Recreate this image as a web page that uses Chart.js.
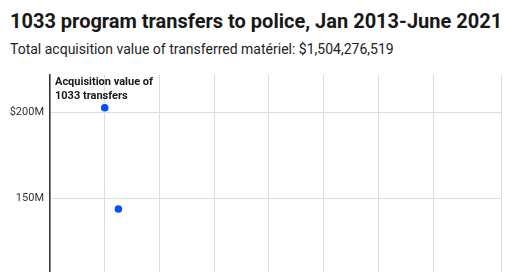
<!DOCTYPE html>
<html>
<head>
<meta charset="utf-8">
<script src="https://cdn.jsdelivr.net/npm/chart.js@4"></script>
<style>
  html, body { margin: 0; padding: 0; background: #fff; overflow: hidden; }
  #wrap { position: relative; width: 520px; height: 272px; overflow: hidden; }
  #title { position: absolute; left: 10px; top: 9px; font: bold 20px Roboto, sans-serif; color: #181818; white-space: nowrap; }
  #subtitle { position: absolute; left: 10px; top: 41px; font: 14px Roboto, sans-serif; color: #222; white-space: nowrap; }
  canvas { position: absolute; left: 0; top: 0; }
</style>
</head>
<body>
<div id="wrap">
  <div id="title">1033 program transfers to police, Jan 2013-June 2021</div>
  <div id="subtitle">Total acquisition value of transferred matériel: $1,504,276,519</div>
  <canvas id="c" width="520" height="285"></canvas>
</div>
<script>
// Data (decimal year, acquisition value in $M) — only points visible in the reference
const dates = [2013.0, 2013.25];
const values = [202.5, 143.8];
const yTicks = [150, 200];
const yAxisTitle = ["Acquisition value of", "1033 transfers"];

const axisTitlePlugin = {
  id: 'axisTitle',
  afterDatasetsDraw(chart) {
    const { ctx, chartArea } = chart;
    ctx.save();
    ctx.font = 'bold 11px Roboto, sans-serif';
    ctx.fillStyle = '#181818';
    ctx.textAlign = 'left';
    yAxisTitle.forEach((line, i) => {
      ctx.fillText(line, chartArea.left + 5, chartArea.top + 10.3 + i * 13.3);
    });
    ctx.restore();
  }
};

new Chart(document.getElementById('c'), {
  type: 'scatter',
  data: {
    datasets: [{
      data: dates.map((d, i) => ({ x: d, y: values[i] })),
      backgroundColor: '#0050ff',
      pointRadius: 3.8,
      pointHoverRadius: 3.8,
      borderWidth: 0
    }]
  },
  options: {
    responsive: false,
    animation: false,
    layout: { padding: { top: 75, right: 19, bottom: 0, left: 0 } },
    plugins: { legend: { display: false }, tooltip: { enabled: false } },
    scales: {
      x: {
        type: 'linear', min: 2012, max: 2020.24,
        ticks: { display: false, stepSize: 1 },
        grid: { color: '#dcdcdc', drawTicks: false },
        border: { display: false },
        afterFit(s) { s.height = 0; }
      },
      y: {
        min: 107, max: 221.5,
        afterBuildTicks(s) { s.ticks = yTicks.map(v => ({ value: v })); },
        ticks: { padding: 6, color: '#333', font: { family: 'Roboto, sans-serif', size: 11 },
          callback: v => (v === 200 ? '$' + v + 'M' : v + 'M') },
        grid: { color: '#dcdcdc', drawTicks: false },
        border: { color: '#333', width: 1.5 },
        afterFit(s) { s.width = 50; }
      }
    }
  },
  plugins: [axisTitlePlugin]
});
</script>
</body>
</html>
